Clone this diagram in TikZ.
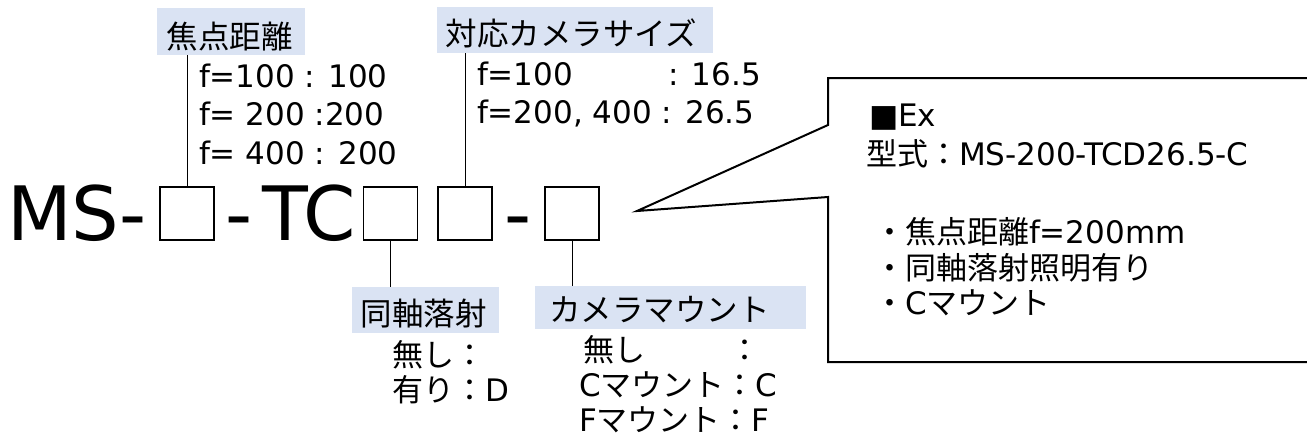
\documentclass[tikz,border=0pt]{standalone}
\usepackage{fontspec}
\setmainfont{DejaVu Sans}
\newfontfamily\jp{Noto Sans CJK JP}
\definecolor{lbl}{HTML}{DAE3F3}
\begin{document}
\begin{tikzpicture}[x=1pt,y=-1pt,
  body/.style={anchor=base west,inner sep=0,outer sep=0,font=\fontsize{31}{37}\selectfont},
  big/.style={anchor=base west,inner sep=0,outer sep=0,font=\fontsize{75}{90}\selectfont},
  slot/.style={draw,line width=1.7pt,inner sep=0,outer sep=0,minimum width=54pt,minimum height=53pt},
  tagbg/.style={fill=lbl,inner sep=0,outer sep=0},
  tagtext/.style={anchor=base west,inner sep=0,outer sep=0,font=\jp\fontsize{31.5}{37}\selectfont},
  conn/.style={line width=1pt},
  callout/.style={line width=2pt,line join=miter}]
\clip (0,0) rectangle (1307,437);
\fill[white] (0,0) rectangle (1307,437);

% label backgrounds
\node[tagbg,minimum width=148pt,minimum height=47pt] (lf) at (231,31.5) {};
\node[tagbg,minimum width=276pt,minimum height=46pt] (lc) at (575,30) {};
\node[tagbg,minimum width=147pt,minimum height=46pt] (lk) at (425.5,310) {};
\node[tagbg,minimum width=271pt,minimum height=43pt] (lm) at (670.5,307.5) {};

% label texts
\node[tagtext] (tf) at (166.5,48) {焦点距離};
\node[tagtext] (tc2) at (445.5,45) {対応カメラサイズ};
\node[tagtext] (tk) at (360.5,325) {同軸落射};
\node[tagtext] (tm) at (549,321) {カメラマウント};

% main code
\node[big] (ms) at (7,240) {MS-};
\node[big] (h1) at (225.5,240) {-};
\node[big,anchor=base east] (tc) at (356,240) {TC};
\node[big] (hy) at (504.5,240) {-};
\node[slot] (sf) at (187,213.5) {};
\node[slot] (sd) at (390.5,213.5) {};
\node[slot] (sc) at (465,213.5) {};
\node[slot] (sm) at (572,213.5) {};

% connectors
\draw[conn] (sf.north) -- (sf.north |- lf.south);
\draw[conn] (sc.north) -- (sc.north |- lc.south);
\draw[conn] (sd.south) -- (sd.south |- lk.north);
\draw[conn] (sm.south) -- (sm.south |- lm.north);

% focal length values
\node[body] (f1) at (199,87) {f=100 : 100};
\node[body] (f2) at (199,125) {f= 200 :200};
\node[body] (f3) at (199,164) {f= 400 : 200};

% camera size values
\node[body] (s1) at (477,85) {f=100};
\node[body,anchor=base east] (s1b) at (761,85) {: 16.5};
\node[body] (s2) at (477,123) {f=200, 400 : 26.5};

% coaxial values
\node[body] (k1) at (392,366) {\jp 無し：};
\node[body] (k2) at (392,401) {{\jp 有り：}D};

% mount values
\node[body] (m1) at (583,361) {\jp 無し};
\node[body,anchor=base] (m1c) at (745,361) {\jp ：};
\node[body] (m2) at (579,396) {C{\jp マウント：}C};
\node[body] (m3) at (579,431) {F{\jp マウント：}F};

% callout
\coordinate (tip) at (637,211);
\draw[callout] (828,125) -- (828,78) -- (1320,78) -- (1320,362) -- (828,362) -- (828,197) -- (tip) -- cycle;
\node[body] (ex) at (869,126) {■Ex};
\node[body] (ty) at (866,165) {{\jp 型式：}MS-200-TCD26.5-C};
\node[body] (b1) at (874,243) {{\jp ・焦点距離}f=200mm};
\node[body] (b2) at (874,279) {\jp ・同軸落射照明有り};
\node[body] (b3) at (874,314) {{\jp ・}C{\jp マウント}};
\end{tikzpicture}
\end{document}
